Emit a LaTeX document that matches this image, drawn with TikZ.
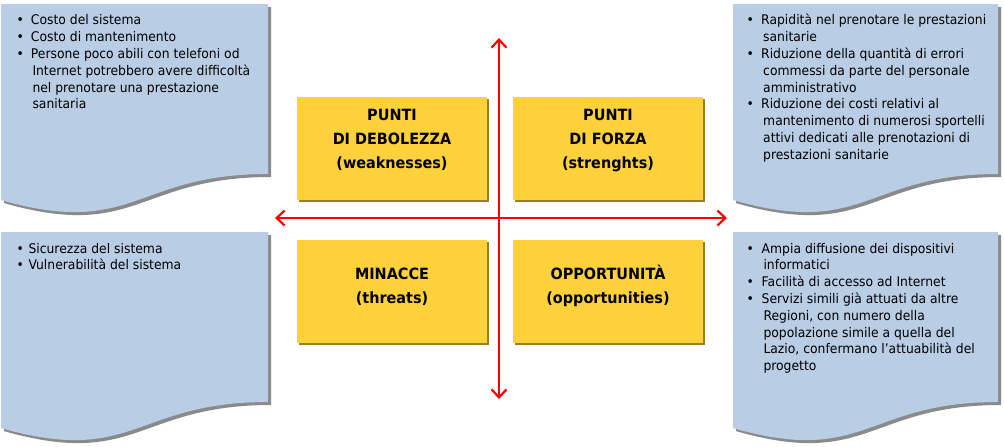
\documentclass[tikz,border=0pt]{standalone}
\usepackage{fontspec}
\setmainfont{DejaVu Sans}[FakeStretch=0.93]
\usetikzlibrary{arrows.meta,shadows}
\definecolor{docblue}{HTML}{B9CDE5}
\definecolor{docshadow}{HTML}{8A8A8A}
\definecolor{swotyellow}{HTML}{FDD13B}
\definecolor{yshadow}{HTML}{9C7F24}
\definecolor{axisred}{HTML}{FF0000}
\newcommand\docshape[4]{%
  \path[#4] (#1,#2) -- (#3,#2) -- (#3,#2+170)
    .. controls ({(#1+#3)/2},#2+170) and ({(#1+#3)/2},#2+234) .. (#1,#2+196.1) -- cycle;}
\newcommand\bulitem[1]{\makebox[0pt]{•}\hspace*{#1}}
\newcommand\contline[1]{\hspace*{#1}}
\tikzset{
  ybox/.style={fill=swotyellow, minimum width=190pt, minimum height=103pt, inner sep=0pt,
    general shadow={fill=yshadow, shadow xshift=2pt, shadow yshift=-2pt}},
  ylabel/.style={anchor=base, inner sep=0pt, font=\fontsize{15.5}{24}\selectfont\bfseries},
  doctext/.style={anchor=base west, inner sep=0pt, font=\fontsize{13.3}{16.8}\selectfont},
  docfill/.style={fill=docblue},
  docshade/.style={fill=docshadow, xshift=3pt, yshift=-3pt},
  axisarrow/.style={draw=axisred, line width=2.2pt,
    {Straight Barb[length=8pt,width=15pt]}-{Straight Barb[length=8pt,width=15pt]}},
}
\begin{document}
\begin{tikzpicture}[x=1pt, y=-1pt]
\useasboundingbox (0,0) rectangle (1004,447);
% document shapes
\docshape{1}{4}{268}{docshade}
\docshape{1}{4}{268}{docfill}
\docshape{733}{4}{998}{docshade}
\docshape{733}{4}{998}{docfill}
\docshape{1}{232}{268}{docshade}
\docshape{1}{232}{268}{docfill}
\docshape{733}{232}{998}{docshade}
\docshape{733}{232}{998}{docfill}
% document texts
\node[doctext] (wtext) at (20,24.8) {\parbox[t]{300pt}{%
  \bulitem{10.7pt}Costo del sistema\\
  \bulitem{10.7pt}Costo di mantenimento\\
  \bulitem{10.7pt}Persone poco abili con telefoni od\\
  \contline{12.3pt}Internet potrebbero avere difficoltà\\
  \contline{12.3pt}nel prenotare una prestazione\\
  \contline{12.3pt}sanitaria}};
\node[doctext] (stext) at (750,24.8) {\parbox[t]{300pt}{%
  \bulitem{11pt}Rapidità nel prenotare le prestazioni\\
  \contline{13pt}sanitarie\\
  \bulitem{11pt}Riduzione della quantità di errori\\
  \contline{13pt}commessi da parte del personale\\
  \contline{13pt}amministrativo\\
  \bulitem{11pt}Riduzione dei costi relativi al\\
  \contline{13pt}mantenimento di numerosi sportelli\\
  \contline{13pt}attivi dedicati alle prenotazioni di\\
  \contline{13pt}prestazioni sanitarie}};
\node[doctext] (ttext) at (20,253) {\parbox[t]{300pt}{%
  \bulitem{8.3pt}Sicurezza del sistema\\
  \bulitem{8.3pt}Vulnerabilità del sistema}};
\node[doctext] (otext) at (750,253) {\parbox[t]{300pt}{%
  \bulitem{11.5pt}Ampia diffusione dei dispositivi\\
  \contline{13.3pt}informatici\\
  \bulitem{11.5pt}Facilità di accesso ad Internet\\
  \bulitem{11.5pt}Servizi simili già attuati da altre\\
  \contline{13.3pt}Regioni, con numero della\\
  \contline{13.3pt}popolazione simile a quella del\\
  \contline{13.3pt}Lazio, confermano l’attuabilità del\\
  \contline{13.3pt}progetto}};
% yellow boxes
\node[ybox] (wbox) at (392,148.5) {};
\node[ybox] (sbox) at (608,148.5) {};
\node[ybox] (tbox) at (392,291) {};
\node[ybox] (obox) at (608,291) {};
\node[ylabel] (wlab) at (392,120.5) {\begin{tabular}[t]{@{}c@{}}PUNTI\\ DI DEBOLEZZA\\ (weaknesses)\end{tabular}};
\node[ylabel] (slab) at (608,120.5) {\begin{tabular}[t]{@{}c@{}}PUNTI\\ DI FORZA\\ (strenghts)\end{tabular}};
\node[ylabel] (tlab) at (392,279) {\begin{tabular}[t]{@{}c@{}}MINACCE\\ (threats)\end{tabular}};
\node[ylabel] (olab) at (608,279) {\begin{tabular}[t]{@{}c@{}}OPPORTUNITÀ\\ (opportunities)\end{tabular}};
% axes
\coordinate (hl) at (275,218);
\coordinate (hr) at (727,218);
\coordinate (vt) at (499,38);
\coordinate (vb) at (499,399);
\draw[axisarrow] (hl) -- (hr);
\draw[axisarrow] (vt) -- (vb);
\end{tikzpicture}
\end{document}
